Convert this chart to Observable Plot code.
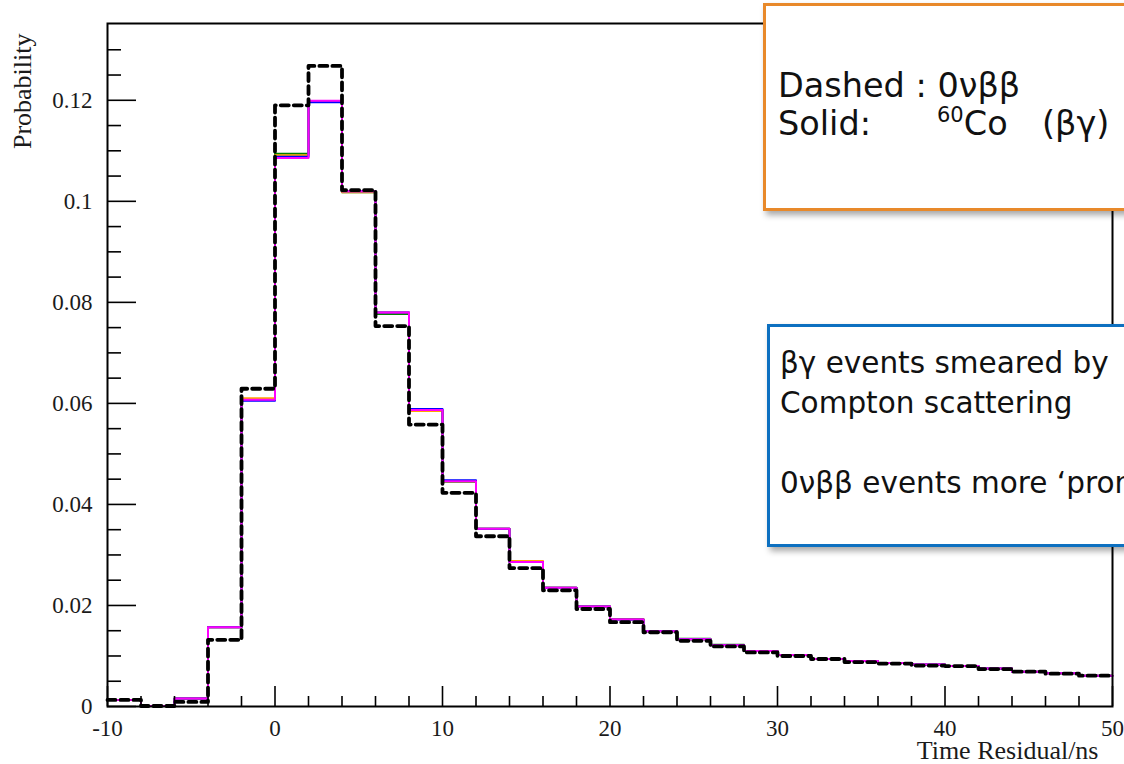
<!DOCTYPE html>
<html>
<head>
<meta charset="utf-8">
<script src="https://cdn.jsdelivr.net/npm/d3@7"></script>
<script src="https://cdn.jsdelivr.net/npm/@observablehq/plot@0.6"></script>
<style>
  html, body { margin: 0; padding: 0; background: #fff; overflow: hidden; }
  #wrap { position: relative; width: 1124px; height: 764px; overflow: hidden; }
  #overlay { position: absolute; left: 0; top: 0; pointer-events: none; }
</style>
</head>
<body>
<div id="wrap"></div>
<script>
// ---- data ----
const binLow = [-10,-8,-6,-4,-2,0,2,4,6,8,10,12,14,16,18,20,22,24,26,28,30,32,34,36,38,40,42,44,46,48];
const binHigh = 50;

const dashed0vbb = [0.0013,0.0001,0.0009,0.0132,0.0629,0.1190,0.1268,0.1022,0.0753,0.0558,
                    0.0423,0.0337,0.0274,0.0230,0.0193,0.0167,0.0147,0.0130,0.0119,0.0107,
                    0.0100,0.0094,0.0088,0.0085,0.0081,0.0080,0.0074,0.0069,0.0065,0.0061];
const solidGreen = [0.0013,0.0001,0.0016,0.0157,0.0607,0.1094,0.1197,0.1018,0.0777,0.0587,
                    0.0445,0.0352,0.0286,0.0235,0.0198,0.0172,0.0149,0.0134,0.0122,0.0110,
                    0.0102,0.0094,0.0090,0.0086,0.0083,0.0080,0.0075,0.0069,0.0066,0.0061];
const solidOrange = [0.0013,0.0001,0.0016,0.0157,0.0610,0.1091,0.1197,0.1018,0.0780,0.0585,
                     0.0446,0.0352,0.0288,0.0235,0.0198,0.0173,0.0149,0.0133,0.0121,0.0110,
                     0.0102,0.0094,0.0090,0.0086,0.0083,0.0080,0.0075,0.0069,0.0066,0.0061];
const solidBlue = [0.0013,0.0001,0.0016,0.0157,0.0605,0.1088,0.1196,0.1020,0.0780,0.0589,
                   0.0448,0.0352,0.0286,0.0235,0.0198,0.0172,0.0149,0.0133,0.0121,0.0110,
                   0.0102,0.0094,0.0090,0.0086,0.0083,0.0080,0.0075,0.0069,0.0066,0.0061];
const solidMagenta = [0.0013,0.0001,0.0016,0.0157,0.0607,0.1086,0.1199,0.1020,0.0780,0.0587,
                      0.0446,0.0352,0.0286,0.0235,0.0198,0.0172,0.0149,0.0133,0.0121,0.0110,
                      0.0102,0.0094,0.0090,0.0086,0.0083,0.0080,0.0075,0.0069,0.0066,0.0061];

const seriesNames = ["green","orange","blue","magenta"];
const seriesColors = ["#2f9a2f","#f39a2c","#4a4af0","#cf00c8"];

const xMajorTicks = [-10,0,10,20,30,40,50];
const xMinorTicks = [-8,-6,-4,-2,2,4,6,8,12,14,16,18,22,24,26,28,32,34,36,38,42,44,46,48];
const yMajorTicks = [0,0.02,0.04,0.06,0.08,0.1,0.12];
const yMinorTicks = [0.005,0.01,0.015,0.025,0.03,0.035,0.045,0.05,0.055,0.065,0.07,0.075,
                     0.085,0.09,0.095,0.105,0.11,0.115,0.125,0.13];

const xTitle = "Time Residual/ns";
const yTitle = "Probability";

// ---- build step tables ----
function steps(name, vals) {
  const pts = binLow.map((x, i) => ({series: name, x, y: vals[i]}));
  pts.push({series: name, x: binHigh, y: vals[vals.length - 1]});
  return pts;
}
const solidTable = [
  ...steps("green", solidGreen),
  ...steps("orange", solidOrange),
  ...steps("blue", solidBlue),
  ...steps("magenta", solidMagenta)
];
const dashedTable = steps("0vbb", dashed0vbb);

// ---- layout ----
const W = 1124, H = 764;
const mL = 107, mR = 12, mT = 23, mB = 58;
const fw = W - mL - mR, fh = H - mT - mB;

const chart = Plot.plot({
  width: W, height: H,
  marginLeft: mL, marginRight: mR, marginTop: mT, marginBottom: mB,
  x: {domain: [-10, 50]},
  y: {domain: [0, 0.1352]},
  color: {domain: seriesNames, range: seriesColors},
  style: {fontFamily: "'Liberation Serif', 'DejaVu Serif', serif", fontSize: "23px", color: "#1a1a1a", background: "#fff"},
  marks: [
    Plot.line(solidTable, {x: "x", y: "y", z: "series", stroke: "series", strokeWidth: 2, curve: "step-after"}),
    Plot.line(dashedTable, {x: "x", y: "y", stroke: "black", strokeWidth: 3.8, strokeDasharray: "8,5", curve: "step-after"}),
    Plot.ruleX(xMajorTicks, {x: d => d, insetTop: fh - 20, stroke: "black", strokeWidth: 1.6}),
    Plot.ruleX(xMinorTicks, {x: d => d, insetTop: fh - 10, stroke: "black", strokeWidth: 1.6}),
    Plot.ruleY(yMajorTicks, {y: d => d, insetRight: fw - 29, stroke: "black", strokeWidth: 1.6}),
    Plot.ruleY(yMinorTicks, {y: d => d, insetRight: fw - 14, stroke: "black", strokeWidth: 1.6}),
    Plot.frame({stroke: "black", strokeWidth: 2}),
    Plot.axisX(xMajorTicks, {tickSize: 0, tickPadding: 13, tickFormat: d => String(d), label: null, fontSize: 23}),
    Plot.axisY(yMajorTicks, {tickSize: 0, tickPadding: 15, tickFormat: d => String(d), label: null, fontSize: 23}),
    Plot.text([xTitle], {text: d => d, frameAnchor: "bottom-right", textAnchor: "end", dx: -14, dy: 52, fontSize: 26}),
    Plot.text([yTitle], {text: d => d, frameAnchor: "top-left", textAnchor: "end", rotate: -90, dx: -95, dy: 10, fontSize: 26})
  ]
});
const wrap = document.getElementById("wrap");
wrap.appendChild(chart);

// ---- annotation boxes (overlay) ----
const svg = d3.select(wrap).append("svg")
  .attr("id", "overlay").attr("width", W).attr("height", H)
  .style("font-family", "'DejaVu Sans', 'Noto Sans', sans-serif").style("fill", "#111");
const defs = svg.append("defs");
const f = defs.append("filter").attr("id", "shadow").attr("x", "-10%").attr("y", "-10%").attr("width", "130%").attr("height", "130%");
f.append("feDropShadow").attr("dx", 3).attr("dy", 4).attr("stdDeviation", 3).attr("flood-color", "#000").attr("flood-opacity", 0.35);

svg.append("rect").attr("x", 764.5).attr("y", 4.5).attr("width", 420).attr("height", 205)
  .attr("fill", "#fff").attr("stroke", "#e8892b").attr("stroke-width", 3).attr("filter", "url(#shadow)");
svg.append("rect").attr("x", 768.5).attr("y", 325.5).attr("width", 420).attr("height", 220)
  .attr("fill", "#fff").attr("stroke", "#0d6fc0").attr("stroke-width", 3).attr("filter", "url(#shadow)");

const orangeSize = 33.5;
svg.append("text").attr("x", 778).attr("y", 97).attr("font-size", orangeSize).text("Dashed : 0νββ");
svg.append("text").attr("x", 778).attr("y", 135).attr("font-size", orangeSize).text("Solid:");
const co = svg.append("text").attr("x", 937).attr("y", 135).attr("font-size", orangeSize);
co.append("tspan").attr("font-size", 21).attr("dy", -13).text("60");
co.append("tspan").attr("dy", 13).text("Co");
svg.append("text").attr("x", 1042).attr("y", 135).attr("font-size", orangeSize).text("(βγ)");

const blueSize = 29.5;
svg.append("text").attr("x", 780).attr("y", 373).attr("font-size", blueSize).text("βγ events smeared by");
svg.append("text").attr("x", 780).attr("y", 413).attr("font-size", blueSize).text("Compton scattering");
svg.append("text").attr("x", 780).attr("y", 493).attr("font-size", blueSize).text("0νββ events more ‘prompt’");
</script>
</body>
</html>
